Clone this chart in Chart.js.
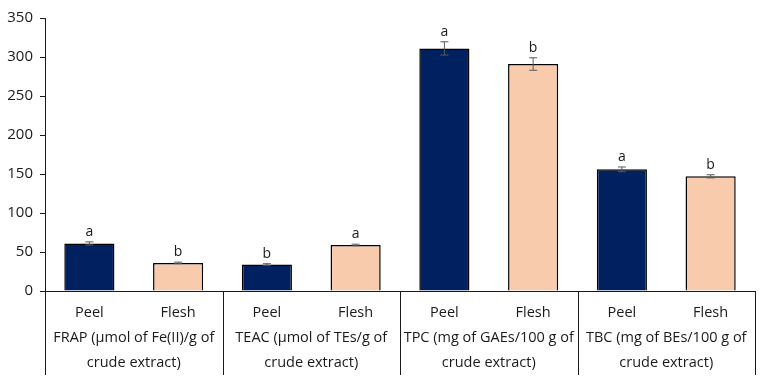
<!DOCTYPE html>
<html>
<head>
<meta charset="utf-8">
<script src="https://cdn.jsdelivr.net/npm/chart.js@4"></script>
<style>
  html, body { margin: 0; padding: 0; background: #fff; }
  #wrap { width: 765px; height: 380px; }
</style>
</head>
<body>
<div id="wrap"><canvas id="chart"></canvas></div>
<script>
const parts = ['Peel', 'Flesh', 'Peel', 'Flesh', 'Peel', 'Flesh', 'Peel', 'Flesh']
const groups = [
  ['FRAP (\u00b5mol of Fe(II)/g of', 'crude extract)'],
  ['TEAC (\u00b5mol of TEs/g of', 'crude extract)'],
  ['TPC (mg of GAEs/100 g of', 'crude extract)'],
  ['TBC (mg of BEs/100 g of', 'crude extract)']
]
const means = [61, 36, 34, 59, 311, 291, 156, 147]
const errors = [2, 1, 1, 1, 8.5, 8, 3, 2]
const letters = ['a', 'b', 'b', 'a', 'a', 'b', 'a', 'b']
const yTicks = [0, 50, 100, 150, 200, 250, 300, 350]

const NAVY = '#002060'
const PEACH = '#F8CBAD'
const FONT = "'Open Sans', 'Noto Sans', sans-serif"
const INK = '#1a1a1a'

// error bars, letters and the group separators under the axis
const extras = {
  id: 'extras',
  afterDatasetsDraw(chart) {
    const ctx = chart.ctx
    const y = chart.scales.y
    const bars = chart.getDatasetMeta(0).data
    ctx.save()
    ctx.strokeStyle = '#595959'
    ctx.lineWidth = 1
    bars.forEach((bar, i) => {
      const top = y.getPixelForValue(means[i] + errors[i])
      const bot = y.getPixelForValue(means[i] - errors[i])
      ctx.beginPath()
      ctx.moveTo(bar.x, top)
      ctx.lineTo(bar.x, bot)
      ctx.moveTo(bar.x - 4, top)
      ctx.lineTo(bar.x + 4, top)
      ctx.moveTo(bar.x - 4, bot)
      ctx.lineTo(bar.x + 4, bot)
      ctx.stroke()
      ctx.fillStyle = INK
      ctx.font = '14px ' + FONT
      ctx.textAlign = 'center'
      ctx.textBaseline = 'bottom'
      ctx.fillText(letters[i], bar.x, top - 3)
    })
    ctx.restore()
  },
  afterDraw(chart) {
    const ctx = chart.ctx
    const x = chart.scales.x
    const area = chart.chartArea
    ctx.save()
    ctx.strokeStyle = INK
    ctx.lineWidth = 1
    const edges = [x.left]
    for (let i = 2; i < parts.length; i += 2) {
      edges.push((x.getPixelForValue(i - 1) + x.getPixelForValue(i)) / 2)
    }
    edges.push(x.right)
    edges.forEach(px => {
      const xx = Math.round(px) + 0.5
      ctx.beginPath()
      ctx.moveTo(xx, area.bottom)
      ctx.lineTo(xx, 375)
      ctx.stroke()
    })
    ctx.restore()
  }
}

new Chart(document.getElementById('chart'), {
  type: 'bar',
  data: {
    labels: parts,
    datasets: [{
      data: means,
      backgroundColor: parts.map((p, i) => i % 2 === 0 ? NAVY : PEACH),
      borderColor: '#000',
      borderWidth: 1.5,
      categoryPercentage: 1,
      barPercentage: 0.565
    }]
  },
  options: {
    responsive: true,
    maintainAspectRatio: false,
    animation: false,
    layout: { padding: { top: 18, right: 10, left: 0, bottom: 0 } },
    plugins: { legend: { display: false }, tooltip: { enabled: false } },
    scales: {
      y: {
        min: 0,
        max: 350,
        afterBuildTicks: s => { s.ticks = yTicks.map(v => ({ value: v })) },
        afterFit: s => { s.width = 45 },
        border: { display: true, color: INK, width: 1 },
        grid: { display: true, drawOnChartArea: false, tickLength: 5, color: INK },
        ticks: { padding: 7, color: INK, font: { family: FONT, size: 15 } }
      },
      x: {
        weight: 0,
        afterFit: s => { s.height = 34 },
        border: { display: true, color: INK, width: 1 },
        grid: { display: false, drawTicks: false },
        ticks: { padding: 13, color: INK, maxRotation: 0, autoSkip: false, font: { family: FONT, size: 14.5 } }
      },
      x2: {
        type: 'category',
        position: 'bottom',
        labels: groups,
        offset: true,
        weight: 1,
        afterFit: s => { s.height = 55 },
        border: { display: false },
        grid: { display: false, drawTicks: false },
        ticks: { padding: 0, color: INK, maxRotation: 0, autoSkip: false, font: { family: FONT, size: 14.5, lineHeight: 1.75 } }
      }
    }
  },
  plugins: [extras]
})
</script>
</body>
</html>
